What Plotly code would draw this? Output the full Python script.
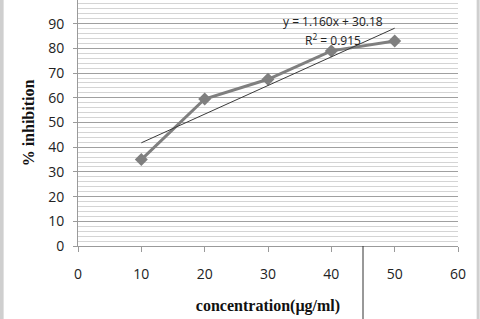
import plotly.graph_objects as go

conc = [10, 20, 30, 40, 50]
inhibition = [35, 59.5, 67.5, 79, 83]
slope = 1.160
intercept = 30.18
eq_text = "y = 1.160x + 30.18"
r2_text = "R<sup>2</sup> = 0.915"
x_ticks = [0, 10, 20, 30, 40, 50, 60]
y_ticks = [0, 10, 20, 30, 40, 50, 60, 70, 80, 90, 100]

trend_x = [conc[0], conc[-1]]
trend_y = [slope * v + intercept for v in trend_x]

tick_font = dict(family="Open Sans, sans-serif", size=14, color="#222")
title_font = dict(family="Liberation Serif, serif", size=16, color="#111")
ann_font = dict(family="Open Sans, sans-serif", size=12, color="#222")

fig = go.Figure()
fig.add_trace(go.Scatter(x=conc, y=inhibition, mode="lines+markers",
                         line=dict(color="#7f7f7f", width=3),
                         marker=dict(symbol="diamond", size=10, color="#7f7f7f"),
                         showlegend=False))
fig.add_trace(go.Scatter(x=trend_x, y=trend_y, mode="lines",
                         line=dict(color="#3a3a3a", width=1), showlegend=False))

fig.add_annotation(x=40.3, y=90.7, text=eq_text, showarrow=False, font=ann_font)
fig.add_annotation(x=40.3, y=83.4, text=r2_text, showarrow=False, font=ann_font)

# page borders and stray line
fig.add_shape(type="line", xref="paper", yref="paper", x0=-0.201, x1=-0.201, y0=-0.3, y1=1.0,
              line=dict(color="#cfcfcf", width=4))
fig.add_shape(type="line", xref="paper", yref="paper", x0=1.053, x1=1.053, y0=-0.3, y1=1.0,
              line=dict(color="#cfcfcf", width=3))
fig.add_shape(type="line", xref="x", yref="paper", x0=45, x1=45, y0=0, y1=-0.3,
              line=dict(color="#333", width=1))

fig.update_layout(
    width=480, height=319,
    margin=dict(l=78, r=22, t=0, b=73),
    paper_bgcolor="white", plot_bgcolor="white",
    xaxis=dict(range=[0, 60], tickvals=x_ticks, showgrid=False, zeroline=False,
               showline=True, linecolor="#9a9a9a", linewidth=1,
               ticks="outside", ticklen=5, tickcolor="#9a9a9a",
               tickfont=tick_font, ticklabelstandoff=10,
               title=dict(text="<b>concentration(µg/ml)</b>", font=title_font, standoff=18)),
    yaxis=dict(range=[0, 99.6], tickvals=y_ticks, showgrid=True, gridcolor="#a0a0a0", gridwidth=1,
               zeroline=False, showline=True, linecolor="#9a9a9a", linewidth=1,
               ticks="outside", ticklen=4, tickcolor="#9a9a9a",
               tickfont=tick_font, ticklabelstandoff=6,
               minor=dict(dtick=2, showgrid=True, gridcolor="#d4d4d4", gridwidth=1),
               title=dict(text="<b>% inhibition</b>", font=title_font, standoff=9)),
)

fig.write_html("out.html")
